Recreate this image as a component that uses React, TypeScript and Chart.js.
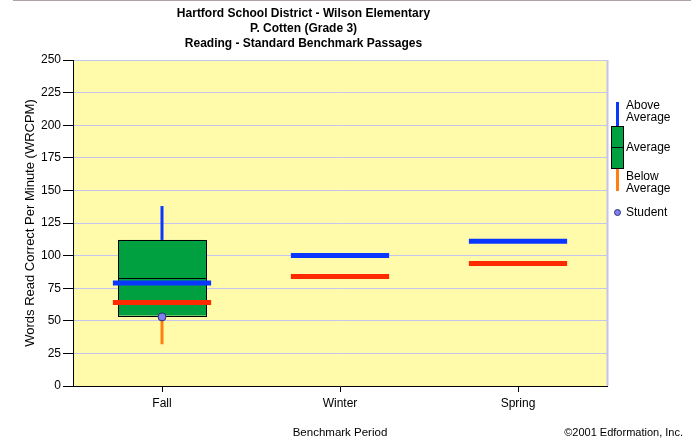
import React, { useEffect, useRef } from 'react';
import { Chart, registerables } from 'chart.js';

Chart.register(...registerables);

// ---- Data ----
const periods = ['Fall', 'Winter', 'Spring'];
const titleLines = [
  'Hartford School District - Wilson Elementary',
  'P. Cotten (Grade 3)',
  'Reading - Standard Benchmark Passages',
];
const yAxisTitle = 'Words Read Correct Per Minute (WRCPM)';
const xAxisTitle = 'Benchmark Period';
const copyright = '\u00A92001 Edformation, Inc.';
const yMin = 0;
const yMax = 250;
const yStep = 25;

const boxLow = [54, null, null];
const boxHigh = [112, null, null];
const boxMedian = [83, null, null];
const whiskerHigh = [138, null, null];
const whiskerLow = [32, null, null];
const aboveAverageBenchmark = [79, 100, 111];
const belowAverageBenchmark = [64, 84, 94];
const studentScore = [53, null, null];

const legendAbove = ['Above', 'Average'];
const legendAverage = 'Average';
const legendBelow = ['Below', 'Average'];
const legendStudent = 'Student';

// ---- Styles ----
const FONT = '"Liberation Sans", Arial, Helvetica, sans-serif';
const YELLOW = '#FFFBAA';
const GRID = '#C4C4EC';
const GREEN = '#00A040';
const BLUE = '#0A37FF';
const RED = '#FF2A00';
const ORANGE = '#FF8010';
const DOT = '#8080F0';
const DOT_BORDER = '#303070';

const backgroundPlugin = {
  id: 'bgPlugin',
  beforeDraw(chart: any) {
    const { ctx, chartArea: a, width } = chart;
    ctx.save();
    ctx.fillStyle = '#FFFFFF';
    ctx.fillRect(0, 0, chart.width, chart.height);
    ctx.fillStyle = YELLOW;
    ctx.fillRect(a.left, a.top, a.right - a.left, a.bottom - a.top);
    ctx.strokeStyle = GRID;
    ctx.lineWidth = 2;
    ctx.beginPath();
    ctx.moveTo(a.right + 0.5, a.top);
    ctx.lineTo(a.right + 0.5, a.bottom);
    ctx.stroke();
    // thin top rule
    ctx.strokeStyle = '#B0A0A8';
    ctx.lineWidth = 1;
    ctx.beginPath();
    ctx.moveTo(13, 0.5);
    ctx.lineTo(width, 0.5);
    ctx.stroke();
    ctx.restore();
  },
};

const boxPlugin = {
  id: 'boxPlot',
  beforeDatasetsDraw(chart: any) {
    const { ctx } = chart;
    const x = chart.scales.x;
    const y = chart.scales.y;
    const slot = x.getPixelForValue(1) - x.getPixelForValue(0);
    ctx.save();
    periods.forEach((_p, i) => {
      const cx = x.getPixelForValue(i);
      if (boxLow[i] != null && boxHigh[i] != null) {
        const half = slot * 0.247;
        ctx.lineCap = 'butt';
        ctx.lineWidth = 3;
        if (whiskerHigh[i] != null) {
          ctx.strokeStyle = BLUE;
          ctx.beginPath();
          ctx.moveTo(cx, y.getPixelForValue(boxHigh[i]));
          ctx.lineTo(cx, y.getPixelForValue(whiskerHigh[i]));
          ctx.stroke();
        }
        if (whiskerLow[i] != null) {
          ctx.strokeStyle = ORANGE;
          ctx.beginPath();
          ctx.moveTo(cx, y.getPixelForValue(boxLow[i]));
          ctx.lineTo(cx, y.getPixelForValue(whiskerLow[i]));
          ctx.stroke();
        }
        const top = y.getPixelForValue(boxHigh[i]);
        const bot = y.getPixelForValue(boxLow[i]);
        ctx.fillStyle = GREEN;
        ctx.fillRect(cx - half, top, half * 2, bot - top);
        ctx.strokeStyle = '#000';
        ctx.lineWidth = 1;
        ctx.strokeRect(Math.round(cx - half) + 0.5, Math.round(top) + 0.5, Math.round(half * 2), Math.round(bot - top));
        if (boxMedian[i] != null) {
          const my = Math.round(y.getPixelForValue(boxMedian[i])) + 0.5;
          ctx.beginPath();
          ctx.moveTo(cx - half, my);
          ctx.lineTo(cx + half, my);
          ctx.stroke();
        }
      }
      const lh = slot * 0.276;
      ctx.lineWidth = 5;
      if (aboveAverageBenchmark[i] != null) {
        const by = y.getPixelForValue(aboveAverageBenchmark[i]);
        ctx.strokeStyle = BLUE;
        ctx.beginPath();
        ctx.moveTo(cx - lh, by);
        ctx.lineTo(cx + lh, by);
        ctx.stroke();
      }
      if (belowAverageBenchmark[i] != null) {
        const ry = y.getPixelForValue(belowAverageBenchmark[i]);
        ctx.strokeStyle = RED;
        ctx.beginPath();
        ctx.moveTo(cx - lh, ry);
        ctx.lineTo(cx + lh, ry);
        ctx.stroke();
      }
    });
    ctx.restore();
  },
};

const extrasPlugin = {
  id: 'extras',
  afterDraw(chart: any) {
    const { ctx, width } = chart;
    ctx.save();
    // copyright
    ctx.fillStyle = '#000';
    ctx.font = `11px ${FONT}`;
    ctx.textAlign = 'right';
    ctx.textBaseline = 'middle';
    ctx.fillText(copyright, width - 8, 433);

    // custom legend
    ctx.lineCap = 'butt';
    ctx.lineWidth = 3;
    ctx.strokeStyle = BLUE;
    ctx.beginPath();
    ctx.moveTo(617.5, 102);
    ctx.lineTo(617.5, 126);
    ctx.stroke();
    ctx.strokeStyle = ORANGE;
    ctx.beginPath();
    ctx.moveTo(617.5, 169);
    ctx.lineTo(617.5, 191);
    ctx.stroke();
    ctx.fillStyle = GREEN;
    ctx.fillRect(611, 126, 12, 43);
    ctx.strokeStyle = '#000';
    ctx.lineWidth = 1;
    ctx.strokeRect(611.5, 126.5, 12, 42);
    ctx.beginPath();
    ctx.moveTo(611, 147.5);
    ctx.lineTo(623, 147.5);
    ctx.stroke();

    ctx.fillStyle = DOT;
    ctx.strokeStyle = DOT_BORDER;
    ctx.beginPath();
    ctx.arc(617.5, 212.5, 3, 0, Math.PI * 2);
    ctx.fill();
    ctx.stroke();

    ctx.fillStyle = '#000';
    ctx.font = `12px ${FONT}`;
    ctx.textAlign = 'left';
    ctx.fillText(legendAbove[0], 626, 106);
    ctx.fillText(legendAbove[1], 626, 118);
    ctx.fillText(legendAverage, 626, 148);
    ctx.fillText(legendBelow[0], 626, 177);
    ctx.fillText(legendBelow[1], 626, 189);
    ctx.fillText(legendStudent, 626, 213);
    ctx.restore();
  },
};

export default function App() {
  const ref = useRef<HTMLCanvasElement | null>(null);

  useEffect(() => {
    document.body.style.margin = '0';
    const canvas = ref.current;
    if (!canvas) return;
    Chart.defaults.font.family = FONT;
    const chart = new Chart(canvas, {
      type: 'line',
      data: {
        labels: periods,
        datasets: [
          {
            label: legendStudent,
            data: studentScore as any,
            showLine: false,
            pointRadius: 4,
            pointHoverRadius: 4,
            pointBackgroundColor: DOT,
            pointBorderColor: DOT_BORDER,
            pointBorderWidth: 1,
          },
        ],
      },
      options: {
        responsive: false,
        animation: false,
        events: [],
        layout: { padding: { left: 0, right: 84, top: 0, bottom: 0 } },
        plugins: {
          legend: { display: false },
          tooltip: { enabled: false },
          title: {
            display: true,
            text: titleLines,
            color: '#000',
            font: { size: 12, weight: 'bold', lineHeight: 1.25, family: FONT },
            padding: { top: 6, bottom: 9 },
          },
        },
        scales: {
          x: {
            type: 'category',
            offset: true,
            grid: {
              offset: false,
              drawOnChartArea: false,
              tickLength: 6,
              tickColor: '#000',
            },
            border: { color: '#000', width: 1 },
            ticks: { color: '#000', padding: 4, font: { size: 12, family: FONT } },
            title: {
              display: true,
              text: xAxisTitle,
              color: '#000',
              font: { size: 11.5, family: FONT },
              padding: { top: 0, bottom: 3 },
            },
            afterFit: (s: any) => {
              s.height = 57;
            },
          },
          y: {
            min: yMin,
            max: yMax,
            ticks: { stepSize: yStep, color: '#000', padding: 2, font: { size: 12, family: FONT } },
            grid: { color: GRID, tickColor: '#000', tickLength: 10, lineWidth: 1 },
            border: { color: '#000', width: 1 },
            title: {
              display: true,
              text: yAxisTitle,
              color: '#000',
              font: { size: 13, family: FONT },
              padding: { top: 23, bottom: 0 },
            },
            afterFit: (s: any) => {
              s.width = 73;
            },
          },
        },
      } as any,
      plugins: [backgroundPlugin, boxPlugin, extrasPlugin],
    });
    return () => chart.destroy();
  }, []);

  return (
    <div style={{ width: 691, height: 443 }}>
      <canvas ref={ref} width={691} height={443} style={{ display: 'block' }} />
    </div>
  );
}
